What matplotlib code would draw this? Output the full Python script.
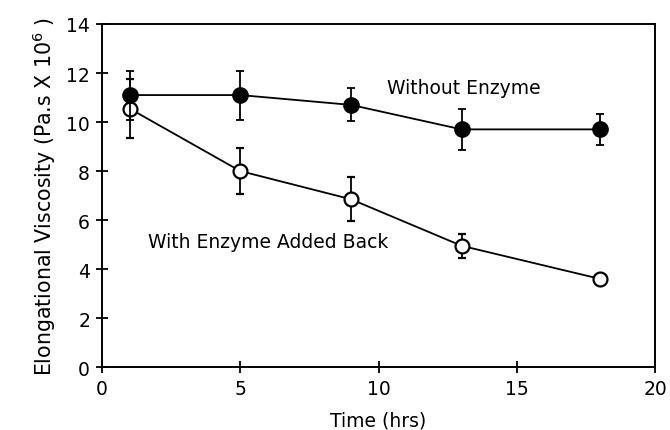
import matplotlib
matplotlib.use('Agg')
import matplotlib.pyplot as plt

# Time points (hrs)
time_hrs = [1, 5, 9, 13, 18]

# Without enzyme (filled circles)
without_vals = [11.1, 11.1, 10.7, 9.7, 9.7]
without_err = [1.0, 1.0, 0.67, 0.85, 0.62]

# With enzyme added back (open circles)
with_vals = [10.55, 8.0, 6.85, 4.95, 3.6]
with_err = [1.2, 0.95, 0.9, 0.5, 0.0]

plt.rcParams['font.family'] = ['DejaVu Sans']

fig = plt.figure(figsize=(6.7, 4.31), dpi=100)
ax = fig.add_axes([0.152, 0.146, 0.826, 0.796])

ax.errorbar(time_hrs, with_vals, yerr=with_err, fmt='-o', color='black',
            mfc='white', mec='black', mew=1.6, markersize=10, lw=1.3,
            elinewidth=1.3, capsize=3, capthick=1.3, zorder=2)
ax.errorbar(time_hrs, without_vals, yerr=without_err, fmt='-o', color='black',
            mfc='black', mec='black', markersize=11, lw=1.3,
            elinewidth=1.3, capsize=3, capthick=1.3, zorder=3)

ax.text(10.3, 11.4, 'Without Enzyme', fontsize=13.5, va='center')
ax.text(1.66, 5.14, 'With Enzyme Added Back', fontsize=13.5, va='center')

ax.set_xlim(0, 20)
ax.set_ylim(0, 14)
ax.set_xticks([0, 5, 10, 15, 20])
ax.set_yticks(range(0, 15, 2))
ax.tick_params(direction='inout', length=9, width=1.3, labelsize=13.5, pad=4)
for s in ax.spines.values():
    s.set_linewidth(1.4)

ax.set_xlabel('Time (hrs)', fontsize=13.5, labelpad=9)
ax.set_ylabel(r'Elongational Viscosity (Pa.s X 10$^{6}$ )', fontsize=14.8, labelpad=6)

fig.savefig('out.png', dpi=100)
